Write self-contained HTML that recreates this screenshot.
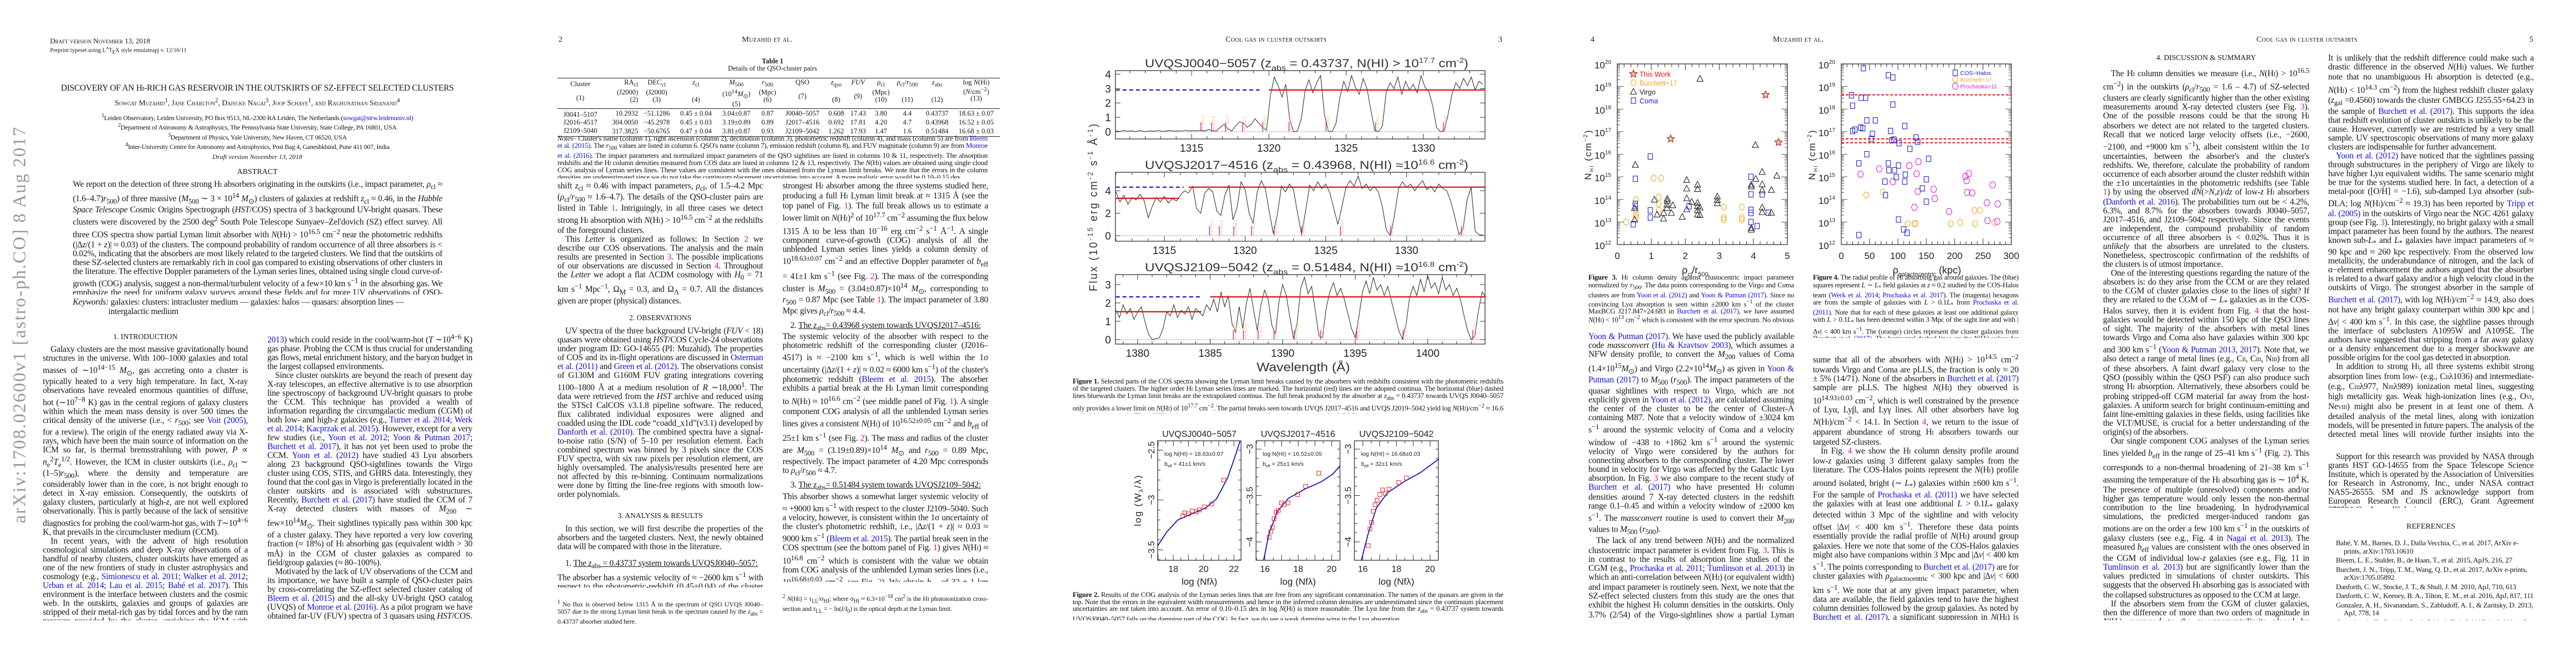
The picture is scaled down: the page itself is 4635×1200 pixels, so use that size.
<!DOCTYPE html>
<html><head><meta charset="utf-8">
<style>
body{margin:0;width:4635px;height:1200px;background:#fff;position:relative;overflow:hidden;font-family:"Liberation Serif",serif;color:#151515}
.a{position:absolute}
.col{position:absolute;font-size:15.5px;line-height:16px;text-align:justify;overflow:hidden;letter-spacing:-0.25px}
.col p{margin:0;text-indent:14px}
.col p.ni{text-indent:0}
.h{text-align:center;font-size:13.5px;letter-spacing:0;margin:9px 0 7px 0;text-indent:0!important}
.l{color:#1010d8}.f{color:#d010c0}
.cap{position:absolute;font-size:12.8px;line-height:12.7px;text-align:justify;letter-spacing:-0.25px;overflow:hidden}
.hd{position:absolute;font-size:14px;top:64px;font-variant:small-caps;letter-spacing:0.3px}
.fn{position:absolute;font-size:12px;line-height:12.8px;text-align:justify;letter-spacing:-0.2px}
table{border-collapse:collapse;font-size:12.5px}
.ref p{margin:0 0 2px 0;text-indent:-14px;padding-left:14px;font-size:13px;line-height:14.5px;text-align:left}
</style></head>
<body>

<!-- PAGE 1 -->
<div class="a" style="left:36px;top:584px;transform:translate(-50%,-50%) rotate(-90deg);font-size:33px;color:#999;white-space:nowrap;letter-spacing:2px">arXiv:1708.02600v1 [astro-ph.CO] 8 Aug 2017</div>
<div class="a" style="left:90px;top:66px;font-size:13px;font-variant:small-caps">Draft version November 13, 2018</div>
<div class="a" style="left:90px;top:83px;font-size:10.5px">Preprint typeset using L<sup style="font-size:7px">A</sup>T<sub style="font-size:9px">E</sub>X style emulateapj v. 12/16/11</div>
<div class="a" style="left:90px;width:746px;top:150px;text-align:center;font-size:15.5px;letter-spacing:-0.3px">DISCOVERY OF AN H<span style="font-size:11px">I</span>-RICH GAS RESERVOIR IN THE OUTSKIRTS OF SZ-EFFECT SELECTED CLUSTERS</div>
<div class="a" style="left:90px;width:746px;top:175px;text-align:center;font-size:13.5px;font-variant:small-caps">Sowgat Muzahid<sup>1</sup>, Jane Charlton<sup>2</sup>, Daisuke Nagai<sup>3</sup>, Joop Schaye<sup>1</sup>, and Raghunathan Srianand<sup>4</sup></div>
<div class="a" style="left:90px;width:746px;top:202px;text-align:center;font-size:12px;line-height:14.3px;letter-spacing:-0.3px"><sup>1</sup>Leiden Observatory, Leiden University, PO Box 9513, NL-2300 RA Leiden, The Netherlands (<span class="l">sowgat@strw.leidenuniv.nl</span>)<br><sup>2</sup>Department of Astronomy &amp; Astrophysics, The Pennsylvania State University, State College, PA 16801, USA<br><sup>3</sup>Department of Physics, Yale University, New Haven, CT 06520, USA<br><sup>4</sup>Inter-University Centre for Astronomy and Astrophysics, Post Bag 4, Ganeshkhind, Pune 411 007, India</div>
<div class="a" style="left:90px;width:746px;top:275px;text-align:center;font-size:12px;font-style:italic">Draft version November 13, 2018</div>
<div class="a" style="left:90px;width:746px;top:302px;text-align:center;font-size:14px">ABSTRACT</div>
<div class="col" style="left:131px;width:665px;top:324px;height:206px"><p class="ni">We report on the detection of three strong H<span style="font-size:10px">I</span> absorbers originating in the outskirts (i.e., impact parameter, <i>ρ</i><sub>cl</sub> ≈ (1.6–4.7)<i>r</i><sub>500</sub>) of three massive (<i>M</i><sub>500</sub> ∼ 3 × 10<sup>14</sup> <i>M</i><sub>⊙</sub>) clusters of galaxies at redshift <i>z</i><sub>cl</sub> ≈ 0.46, in the <i>Hubble Space Telescope</i> Cosmic Origins Spectrograph (<i>HST</i>/COS) spectra of 3 background UV-bright quasars. These clusters were discovered by the 2500 deg<sup>2</sup> South Pole Telescope Sunyaev–Zel'dovich (SZ) effect survey. All three COS spectra show partial Lyman limit absorber with <i>N</i>(H<span style="font-size:10px">I</span>) &gt; 10<sup>16.5</sup> cm<sup>−2</sup> near the photometric redshifts (|Δ<i>z</i>/(1 + <i>z</i>)| ≈ 0.03) of the clusters. The compound probability of random occurrence of all three absorbers is &lt; 0.02%, indicating that the absorbers are most likely related to the targeted clusters. We find that the outskirts of these SZ-selected clusters are remarkably rich in cool gas compared to existing observations of other clusters in the literature. The effective Doppler parameters of the Lyman series lines, obtained using single cloud curve-of-growth (COG) analysis, suggest a non-thermal/turbulent velocity of a few×10 km s<sup>−1</sup> in the absorbing gas. We emphasize the need for uniform galaxy surveys around these fields and for more UV observations of QSO-cluster pairs in general in order to improve the statistics and gain further insights into the unexplored territory of the largest collapsed cosmic structures.</p></div>
<div class="a" style="left:131px;width:665px;top:536px;font-size:15.5px;line-height:16.5px;text-indent:-64px;padding-left:64px;box-sizing:border-box;letter-spacing:-0.25px"><i>Keywords:</i> galaxies: clusters: intracluster medium — galaxies: halos — quasars: absorption lines — intergalactic medium</div>

<div class="col" style="left:77px;width:369px;top:596px;height:520px">
<div class="h" style="margin-top:2px">1. INTRODUCTION</div>
<p>Galaxy clusters are the most massive gravitationally bound structures in the universe. With 100–1000 galaxies and total masses of ∼10<sup>14−15</sup> <i>M</i><sub>⊙</sub>, gas accreting onto a cluster is typically heated to a very high temperature. In fact, X-ray observations have revealed enormous quantities of diffuse, hot (∼10<sup>7−8</sup> K) gas in the central regions of galaxy clusters within which the mean mass density is over 500 times the critical density of the universe (i.e., &lt; <i>r</i><sub>500</sub>; see <span class="l">Voit (2005)</span>, for a review). The origin of the energy radiated away via X-rays, which have been the main source of information on the ICM so far, is thermal bremsstrahlung with power, <i>P</i> ∝ <i>n</i><sub>e</sub><sup>2</sup><i>T</i><sub>e</sub><sup>1/2</sup>. However, the ICM in cluster outskirts (i.e., <i>ρ</i><sub>cl</sub> ∼ (1–5)<i>r</i><sub>500</sub>), where the density and temperature are considerably lower than in the core, is not bright enough to detect in X-ray emission. Consequently, the outskirts of galaxy clusters, particularly at high-<i>z</i>, are not well explored observationally. This is partly because of the lack of sensitive diagnostics for probing the cool/warm-hot gas, with <i>T</i>∼10<sup>4−6</sup> K, that prevails in the circumcluster medium (CCM).</p>
<p>In recent years, with the advent of high resolution cosmological simulations and deep X-ray observations of a handful of nearby clusters, cluster outskirts have emerged as one of the new frontiers of study in cluster astrophysics and cosmology (e.g., <span class="l">Simionescu et al. 2011</span>; <span class="l">Walker et al. 2012</span>; <span class="l">Urban et al. 2014</span>; <span class="l">Lau et al. 2015</span>; <span class="l">Bahé et al. 2017</span>). This environment is the interface between clusters and the cosmic web. In the outskirts, galaxies and groups of galaxies are stripped of their metal-rich gas by tidal forces and by the ram pressure provided by the cluster, enriching the ICM with heavy elements. The outskirts of galaxy clusters may harbor a substantial fraction of the “missing baryons” (e.g., <span class="l">Gonzalez et al. 2007</span>,</p></div>

<div class="col" style="left:481px;width:369px;top:598px;height:518px">
<p class="ni"><span class="l">2013</span>) which could reside in the cool/warm-hot (<i>T</i> ∼10<sup>4−6</sup> K) gas phase. Probing the CCM is thus crucial for understanding gas flows, metal enrichment history, and the baryon budget in the largest collapsed environments.</p>
<p>Since cluster outskirts are beyond the reach of present day X-ray telescopes, an effective alternative is to use absorption line spectroscopy of background UV-bright quasars to probe the CCM. This technique has provided a wealth of information regarding the circumgalactic medium (CGM) of both low- and high-<i>z</i> galaxies (e.g., <span class="l">Turner et al. 2014</span>; <span class="l">Werk et al. 2014</span>; <span class="l">Kacprzak et al. 2015</span>). However, except for a very few studies (i.e., <span class="l">Yoon et al. 2012</span>; <span class="l">Yoon &amp; Putman 2017</span>; <span class="l">Burchett et al. 2017</span>), it has not yet been used to probe the CCM. <span class="l">Yoon et al. (2012)</span> have studied 43 Lyα absorbers along 23 background QSO-sightlines towards the Virgo cluster using COS, STIS, and GHRS data. Interestingly, they found that the cool gas in Virgo is preferentially located in the cluster outskirts and is associated with substructures. Recently, <span class="l">Burchett et al. (2017)</span> have studied the CCM of 7 X-ray detected clusters with masses of <i>M</i><sub>200</sub> ∼ few×10<sup>14</sup><i>M</i><sub>⊙</sub>. Their sightlines typically pass within 300 kpc of a cluster galaxy. They have reported a very low covering fraction (≈ 18%) of H<span style="font-size:10px">I</span> absorbing gas (equivalent width &gt; 30 mÅ) in the CGM of cluster galaxies as compared to field/group galaxies (≈ 80–100%).</p>
<p>Motivated by the lack of UV observations of the CCM and its importance, we have built a sample of QSO-cluster pairs by cross-correlating the SZ-effect selected cluster catalog of <span class="l">Bleem et al. (2015)</span> and the all-sky UV-bright QSO catalog (UVQS) of <span class="l">Monroe et al. (2016)</span>. As a pilot program we have obtained far-UV (FUV) spectra of 3 quasars using <i>HST</i>/COS. These quasars probe the outskirts of 3 SZ-selected clusters of masses <i>M</i><sub>500</sub> ∼ 3 × 10<sup>14</sup> <i>M</i><sub>⊙</sub> at red-</p></div>

<!-- PAGE 2 -->
<div class="hd" style="left:1005px">2</div>
<div class="hd" style="left:1335px">Muzahid et al.</div>
<div class="a" style="left:1003px;width:774px;top:104px;text-align:center;font-size:12.5px;line-height:13px"><b>Table 1</b><br>Details of the QSO-cluster pairs</div>
<table class="a" style="left:1003px;top:140px;width:796px;border-top:1.5px solid #222;border-bottom:1.5px solid #222">
<tr style="border-bottom:1px solid #222;text-align:center;vertical-align:top;line-height:12.5px">
<td style="padding:4px 2px 4px 2px">Cluster<br><br>(1)</td><td style="text-align:right">RA<sub>cl</sub><br>(J2000)<br>(2)</td><td>DEC<sub>cl</sub><br>(J2000)<br>(3)</td><td><i>z</i><sub>cl</sub><br><br>(4)</td><td><i>M</i><sub>500</sub><br>(10<sup>14</sup><i>M</i><sub>⊙</sub>)<br>(5)</td><td><i>r</i><sub>500</sub><br>(Mpc)<br>(6)</td><td>QSO<br><br>(7)</td><td><i>z</i><sub>qso</sub><br><br>(8)</td><td><i>FUV</i><br><br>(9)</td><td><i>ρ</i><sub>cl</sub><br>(Mpc)<br>(10)</td><td><i>ρ</i><sub>cl</sub>/<i>r</i><sub>500</sub><br><br>(11)</td><td><i>z</i><sub>abs</sub><br><br>(12)</td><td>log <i>N</i>(H<span style="font-size:9px">I</span>)<br>(<i>N</i>/cm<sup>−2</sup>)<br>(13)</td></tr>
<tr style="text-align:center;line-height:12.6px"><td style="padding-top:4px">J0041–5107</td><td style="text-align:right">10.2932</td><td>−51.1286</td><td>0.45 ± 0.04</td><td>3.04±0.87</td><td>0.87</td><td>J0040–5057</td><td>0.608</td><td>17.43</td><td>3.80</td><td>4.4</td><td>0.43737</td><td>18.63 ± 0.07</td></tr>
<tr style="text-align:center;line-height:12.6px"><td>J2016–4517</td><td style="text-align:right">304.0050</td><td>−45.2978</td><td>0.45 ± 0.03</td><td>3.19±0.89</td><td>0.89</td><td>J2017–4516</td><td>0.692</td><td>17.81</td><td>4.20</td><td>4.7</td><td>0.43968</td><td>16.52 ± 0.05</td></tr>
<tr style="text-align:center;line-height:12.6px"><td style="padding-bottom:4px">J2109–5040</td><td style="text-align:right">317.3825</td><td>−50.6765</td><td>0.47 ± 0.04</td><td>3.81±0.87</td><td>0.93</td><td>J2109–5042</td><td>1.262</td><td>17.93</td><td>1.47</td><td>1.6</td><td>0.51484</td><td>16.68 ± 0.03</td></tr>
</table>
<div class="cap" style="left:1003px;width:774px;top:243px;height:78px"><i>Notes</i>– Cluster's name (column 1), right ascension (column 2), declination (column 3), photometric redshift (column 4), and mass (column 5) are from <span class="l">Bleem et al. (2015)</span>. The <i>r</i><sub>500</sub> values are listed in column 6. QSO's name (column 7), emission redshift (column 8), and FUV magnitude (column 9) are from <span class="l">Monroe et al. (2016)</span>. The impact parameters and normalized impact parameters of the QSO sightlines are listed in columns 10 &amp; 11, respectively. The absorption redshifts and the H<span style="font-size:9px">I</span> column densities measured from COS data are listed in columns 12 &amp; 13, respectively. The <i>N</i>(H<span style="font-size:9px">I</span>) values are obtained using single cloud COG analysis of Lyman series lines. These values are consistent with the ones obtained from the Lyman limit breaks. We note that the errors in the column densities are underestimated since we do not take the continuum placement uncertainties into account. A more realistic error would be 0.10–0.15 dex.</div>

<div class="col" style="left:1003px;width:370px;top:327px;height:730px">
<p class="ni">shift <i>z</i><sub>cl</sub> ≈ 0.46 with impact parameters, <i>ρ</i><sub>cl</sub>, of 1.5–4.2 Mpc (<i>ρ</i><sub>cl</sub>/<i>r</i><sub>500</sub> ≈ 1.6–4.7). The details of the QSO-cluster pairs are listed in Table <span class="f">1</span>. Intriguingly, in all three cases we detect strong H<span style="font-size:10px">I</span> absorption with <i>N</i>(H<span style="font-size:10px">I</span>) &gt; 10<sup>16.5</sup> cm<sup>−2</sup> at the redshifts of the foreground clusters.</p>
<p>This <i>Letter</i> is organized as follows: In Section <span class="f">2</span> we describe our COS observations. The analysis and the main results are presented in Section <span class="f">3</span>. The possible implications of our observations are discussed in Section <span class="f">4</span>. Throughout the <i>Letter</i> we adopt a flat ΛCDM cosmology with <i>H</i><sub>0</sub> = 71 km s<sup>−1</sup> Mpc<sup>−1</sup>, Ω<sub>M</sub> = 0.3, and Ω<sub>Λ</sub> = 0.7. All the distances given are proper (physical) distances.</p>
<div class="h" style="margin:14px 0 8px">2. OBSERVATIONS</div>
<p>UV spectra of the three background UV-bright (<i>FUV</i> &lt; 18) quasars were obtained using <i>HST</i>/COS Cycle-24 observations under program ID: GO-14655 (PI: Muzahid). The properties of COS and its in-flight operations are discussed in <span class="l">Osterman et al. (2011)</span> and <span class="l">Green et al. (2012)</span>. The observations consist of G130M and G160M FUV grating integrations covering 1100–1800 Å at a medium resolution of <i>R</i> ∼18,000<sup>1</sup>. The data were retrieved from the <i>HST</i> archive and reduced using the STScI CalCOS v3.1.8 pipeline software. The reduced, flux calibrated individual exposures were aligned and coadded using the IDL code “coadd_x1d”(v3.1) developed by <span class="l">Danforth et al. (2010)</span>. The combined spectra have a signal-to-noise ratio (S/N) of 5–10 per resolution element. Each combined spectrum was binned by 3 pixels since the COS FUV spectra, with six raw pixels per resolution element, are highly oversampled. The analysis/results presented here are not affected by this re-binning. Continuum normalizations were done by fitting the line-free regions with smooth low-order polynomials.</p>
<div class="h" style="margin:22px 0 8px">3. ANALYSIS &amp; RESULTS</div>
<p>In this section, we will first describe the properties of the absorbers and the targeted clusters. Next, the newly obtained data will be compared with those in the literature.</p>
<p style="margin-top:14px">1. <u>The <i>z</i><sub>abs</sub> = 0.43737 system towards UVQSJ0040–5057:</u></p>
<p class="ni">The absorber has a systemic velocity of ≈ −2600 km s<sup>−1</sup> with respect to the photometric-redshift (0.45±0.04) of the cluster J0041–5107 (<span class="l">Bleem et al. 2015</span>). This velocity is well within the 1σ uncertainty of the cluster redshift, i.e., |Δ<i>z</i>/(1 + <i>z</i>)| ≈ 0.03 ≈ 9000 km s<sup>−1</sup>. This is the</p></div>
<div class="fn" style="left:1003px;width:370px;top:1078px"><sup>1</sup> No flux is observed below 1315 Å in the spectrum of QSO UVQS J0040–5057 due to the strong Lyman limit break in the spectrum caused by the <i>z</i><sub>abs</sub> = 0.43737 absorber studied here.</div>

<div class="col" style="left:1408px;width:370px;top:327px;height:720px">
<p class="ni">strongest H<span style="font-size:10px">I</span> absorber among the three systems studied here, producing a full H<span style="font-size:10px">I</span> Lyman limit break at ≈ 1315 Å (see the top panel of Fig. <span class="f">1</span>). The full break allows us to estimate a lower limit on <i>N</i>(H<span style="font-size:10px">I</span>)<sup>2</sup> of 10<sup>17.7</sup> cm<sup>−2</sup> assuming the flux below 1315 Å to be less than 10<sup>−16</sup> erg cm<sup>−2</sup> s<sup>−1</sup> Å<sup>−1</sup>. A single component curve-of-growth (COG) analysis of all the unblended Lyman series lines yields a column density of 10<sup>18.63±0.07</sup> cm<sup>−2</sup> and an effective Doppler parameter of <i>b</i><sub>eff</sub> = 41±1 km s<sup>−1</sup> (see Fig. <span class="f">2</span>). The mass of the corresponding cluster is <i>M</i><sub>500</sub> = (3.04±0.87)×10<sup>14</sup> <i>M</i><sub>⊙</sub>, corresponding to <i>r</i><sub>500</sub> = 0.87 Mpc (see Table <span class="f">1</span>). The impact parameter of 3.80 Mpc gives <i>ρ</i><sub>cl</sub>/<i>r</i><sub>500</sub> ≈ 4.4.</p>
<p style="margin-top:6px">2. <u>The <i>z</i><sub>abs</sub>= 0.43968 system towards UVQSJ2017–4516:</u></p>
<p class="ni">The systemic velocity of the absorber with respect to the photometric redshift of the corresponding cluster (J2016–4517) is ≈ −2100 km s<sup>−1</sup>, which is well within the 1σ uncertainty (|Δ<i>z</i>/(1 + <i>z</i>)| ≈ 0.02 ≈ 6000 km s<sup>−1</sup>) of the cluster's photometric redshift (<span class="l">Bleem et al. 2015</span>). The absorber exhibits a partial break at the H<span style="font-size:10px">I</span> Lyman limit corresponding to <i>N</i>(H<span style="font-size:10px">I</span>) ≈ 10<sup>16.6</sup> cm<sup>−2</sup> (see middle panel of Fig. <span class="f">1</span>). A single component COG analysis of all the unblended Lyman series lines gives a consistent <i>N</i>(H<span style="font-size:10px">I</span>) of 10<sup>16.52±0.05</sup> cm<sup>−2</sup> and <i>b</i><sub>eff</sub> of 25±1 km s<sup>−1</sup> (see Fig. <span class="f">2</span>). The mass and radius of the cluster are <i>M</i><sub>500</sub> = (3.19±0.89)×10<sup>14</sup> <i>M</i><sub>⊙</sub> and <i>r</i><sub>500</sub> = 0.89 Mpc, respectively. The impact parameter of 4.20 Mpc corresponds to <i>ρ</i><sub>cl</sub>/<i>r</i><sub>500</sub> ≈ 4.7.</p>
<p style="margin-top:6px">3. <u>The <i>z</i><sub>abs</sub>= 0.51484 system towards UVQSJ2109–5042:</u></p>
<p class="ni">This absorber shows a somewhat larger systemic velocity of ≈ +9000 km s<sup>−1</sup> with respect to the cluster J2109–5040. Such a velocity, however, is consistent within the 1σ uncertainty of the cluster's photometric redshift, i.e., |Δ<i>z</i>/(1 + <i>z</i>)| ≈ 0.03 ≈ 9000 km s<sup>−1</sup> (<span class="l">Bleem et al. 2015</span>). The partial break seen in the COS spectrum (see the bottom panel of Fig. <span class="f">1</span>) gives <i>N</i>(H<span style="font-size:10px">I</span>) ≈ 10<sup>16.8</sup> cm<sup>−2</sup> which is consistent with the value we obtain from COG analysis of the unblended Lyman series lines (i.e., 10<sup>16.68±0.03</sup> cm<sup>−2</sup>, see Fig. <span class="f">2</span>). We obtain <i>b</i><sub>eff</sub> of 32 ± 1 km s<sup>−1</sup> from the COG analysis. The mass of the cluster, <i>M</i><sub>500</sub> = (3.81±0.87)×10<sup>14</sup> <i>M</i><sub>⊙</sub>, corresponds to <i>r</i><sub>500</sub> = 0.93 Mpc. The impact parameter of the cluster of 1.5 Mpc so that <i>ρ</i><sub>cl</sub>/<i>r</i><sub>500</sub> ≈ 1.6.</p>
<p style="margin-top:4px">In Fig. <span class="f">3</span> we show the clustocentric radial profile of <i>N</i>(H<span style="font-size:10px">I</span>), combining our measurements with the handful of studies that exist in the literature. The data points corresponding to the Virgo and Coma clusters are taken from <span class="l">Yoon et al. (2012)</span> and</p></div>
<div class="fn" style="left:1408px;width:370px;top:1068px"><sup>2</sup> <i>N</i>(H<span style="font-size:9px">I</span>) = τ<sub>LL</sub>/σ<sub>HI</sub>; where σ<sub>HI</sub> ≈ 6.3×10<sup>−18</sup> cm<sup>2</sup> is the H<span style="font-size:9px">I</span> photoionization cross-section and τ<sub>LL</sub> = − ln(<i>I</i>/<i>I</i><sub>0</sub>) is the optical depth at the Lyman limit.</div>

<!-- PAGE 3 -->
<div class="hd" style="left:2205px">Cool gas in cluster outskirts</div>
<div class="hd" style="left:2696px">3</div>
<div class="cap" style="left:1930px;width:775px;top:680px;height:64px"><b>Figure 1.</b> Selected parts of the COS spectra showing the Lyman limit breaks caused by the absorbers with redshifts consistent with the photometric redshifts of the targeted clusters. The higher order H<span style="font-size:9px">I</span> Lyman series lines are marked. The horizontal (red) lines are the adopted continua. The horizontal (blue) dashed lines bluewards the Lyman limit breaks are the extrapolated continua. The full break produced by the absorber at <i>z</i><sub>abs</sub> = 0.43737 towards UVQS J0040–5057 only provides a lower limit on <i>N</i>(H<span style="font-size:9px">I</span>) of 10<sup>17.7</sup> cm<sup>−2</sup>. The partial breaks seen towards UVQS J2017–4516 and UVQS J2019–5042 yield log <i>N</i>(H<span style="font-size:9px">I</span>)/cm<sup>−2</sup> ≈ 16.6 and 16.8, respectively. These <i>N</i>(H<span style="font-size:9px">I</span>) values are consistent with the ones obtained using single cloud COG analysis.</div>
<div class="cap" style="left:1930px;width:775px;top:1064px;height:52px"><b>Figure 2.</b> Results of the COG analysis of the Lyman series lines that are free from any significant contamination. The names of the quasars are given in the top. Note that the errors in the equivalent width measurements and hence in the inferred column densities are underestimated since the continuum placement uncertainties are not taken into account. An error of 0.10–0.15 dex in log <i>N</i>(H<span style="font-size:9px">I</span>) is more reasonable. The Lyα line from the <i>z</i><sub>abs</sub> = 0.43737 system towards UVQSJ0040–5057 falls on the damping part of the COG. In fact, we do see a weak damping wing in the Lyα absorption.</div>

<!-- PAGE 4 -->
<div class="hd" style="left:2862px">4</div>
<div class="hd" style="left:3190px">Muzahid et al.</div>
<div class="cap" style="left:2858px;width:370px;top:493px;height:90px"><b>Figure 3.</b> H<span style="font-size:9px">I</span> column density against clustocentric impact parameter normalized by <i>r</i><sub>500</sub>. The data points corresponding to the Virgo and Coma clusters are from <span class="l">Yoon et al. (2012)</span> and <span class="l">Yoon &amp; Putman (2017)</span>. Since no convincing Lyα absorption is seen within ±2000 km s<sup>−1</sup> of the cluster MaxBCG J217.847+24.683 in <span class="l">Burchett et al. (2017)</span>, we have assumed <i>N</i>(H<span style="font-size:9px">I</span>) &lt; 10<sup>13</sup> cm<sup>−2</sup> which is consistent with the error spectrum. No obvious trend is seen in the <i>N</i>(H<span style="font-size:9px">I</span>) radial profile.</div>
<div class="cap" style="left:3262px;width:370px;top:493px;height:115px"><b>Figure 4.</b> The radial profile of H<span style="font-size:9px">I</span> absorbing gas around galaxies. The (blue) squares represent <i>L</i> ∼ <i>L</i><sub>*</sub> field galaxies at <i>z</i> ≈ 0.2 studied by the COS-Halos team (<span class="l">Werk et al. 2014</span>; <span class="l">Prochaska et al. 2017</span>). The (magenta) hexagons are from the sample of galaxies with <i>L</i> &gt; 0.1<i>L</i><sub>*</sub> from <span class="l">Prochaska et al. (2011)</span>. Note that for each of these galaxies at least one additional galaxy with <i>L</i> &gt; 0.1<i>L</i><sub>*</sub> has been detected within 3 Mpc of the sight line and with |Δ<i>v</i>| &lt; 400 km s<sup>−1</sup>. The (orange) circles represent the cluster galaxies from <span class="l">Burchett et al. (2017)</span>. The horizontal dashed lines are the <i>N</i>(H<span style="font-size:9px">I</span>) values for the three clusters studied here.</div>

<div class="col" style="left:2858px;width:370px;top:598px;height:518px">
<p class="ni"><span class="l">Yoon &amp; Putman (2017)</span>. We have used the publicly available code <i>massconvert</i> (<span class="l">Hu &amp; Kravtsov 2003</span>), which assumes a NFW density profile, to convert the <i>M</i><sub>200</sub> values of Coma (1.4×10<sup>15</sup><i>M</i><sub>⊙</sub>) and Virgo (2.2×10<sup>14</sup><i>M</i><sub>⊙</sub>) as given in <span class="l">Yoon &amp; Putman (2017)</span> to <i>M</i><sub>500</sub> (<i>r</i><sub>500</sub>). The impact parameters of the quasar sightlines with respect to Virgo, which are not explicitly given in <span class="l">Yoon et al. (2012)</span>, are calculated assuming the center of the cluster to be the center of Cluster-A containing M87. Note that a velocity window of ±3024 km s<sup>−1</sup> around the systemic velocity of Coma and a velocity window of −438 to +1862 km s<sup>−1</sup> around the systemic velocity of Virgo were considered by the authors for connecting absorbers to the corresponding cluster. The lower bound in velocity for Virgo was affected by the Galactic Lyα absorption. In Fig. <span class="f">3</span> we also compare to the recent study of <span class="l">Burchett et al. (2017)</span> who have presented H<span style="font-size:10px">I</span> column densities around 7 X-ray detected clusters in the redshift range 0.1–0.45 and within a velocity window of ±2000 km s<sup>−1</sup>. The <i>massconvert</i> routine is used to convert their <i>M</i><sub>200</sub> values to <i>M</i><sub>500</sub> (<i>r</i><sub>500</sub>).</p>
<p>The lack of any trend between <i>N</i>(H<span style="font-size:10px">I</span>) and the normalized clustocentric impact parameter is evident from Fig. <span class="f">3</span>. This is in contrast to the results of absorption line studies of the CGM (e.g., <span class="l">Prochaska et al. 2011</span>; <span class="l">Tumlinson et al. 2013</span>) in which an anti-correlation between <i>N</i>(H<span style="font-size:10px">I</span>) (or equivalent width) and impact parameter is routinely seen. Next, we note that the SZ-effect selected clusters from this study are the ones that exhibit the highest H<span style="font-size:10px">I</span> column densities in the outskirts. Only 3.7% (2/54) of the Virgo-sightlines show a partial Lyman limit system (pLLS; <i>N</i>(H<span style="font-size:10px">I</span>) &gt; 10<sup>16.2</sup> cm<sup>−2</sup>). None of the Coma-sightlines show a pLLS. Note that, owing to the low redshifts, the <i>N</i>(H<span style="font-size:10px">I</span>) measurements for Virgo and Coma rely only on the Lyα line and the systems with <i>N</i>(H<span style="font-size:10px">I</span>) &gt; 10<sup>14.5</sup> cm<sup>−2</sup> are presumably saturated. Nonetheless, even if we as-</p></div>

<div class="col" style="left:3262px;width:370px;top:634px;height:482px">
<p class="ni">sume that all of the absorbers with <i>N</i>(H<span style="font-size:10px">I</span>) &gt; 10<sup>14.5</sup> cm<sup>−2</sup> towards Virgo and Coma are pLLS, the fraction is only ≈ 20 ± 5% (14/71). None of the absorbers in <span class="l">Burchett et al. (2017)</span> sample are pLLS. The highest <i>N</i>(H<span style="font-size:10px">I</span>) they observed is 10<sup>14.93±0.03</sup> cm<sup>−2</sup>, which is well constrained by the presence of Lyα, Lyβ, and Lyγ lines. All other absorbers have log <i>N</i>(H<span style="font-size:10px">I</span>)/cm<sup>−2</sup> &lt; 14.1. In Section <span class="f">4</span>, we return to the issue of apparent abundance of strong H<span style="font-size:10px">I</span> absorbers towards our targeted SZ-clusters.</p>
<p>In Fig. <span class="f">4</span> we show the H<span style="font-size:10px">I</span> column density profile around low-<i>z</i> galaxies using 3 different galaxy samples from the literature. The COS-Halos points represent the <i>N</i>(H<span style="font-size:10px">I</span>) profile around isolated, bright (∼ <i>L</i><sub>*</sub>) galaxies within ±600 km s<sup>−1</sup>. For the sample of <span class="l">Prochaska et al. (2011)</span> we have selected the galaxies with at least one additional <i>L</i> &gt; 0.1<i>L</i><sub>*</sub> galaxy detected within 3 Mpc of the sightline and with velocity offset |Δ<i>v</i>| &lt; 400 km s<sup>−1</sup>. Therefore these data points essentially provide the radial profile of <i>N</i>(H<span style="font-size:10px">I</span>) around group galaxies. Here we note that some of the COS-Halos galaxies might also have companions within 3 Mpc and |Δ<i>v</i>| &lt; 400 km s<sup>−1</sup>. The points corresponding to <span class="l">Burchett et al. (2017)</span> are for cluster galaxies with <i>ρ</i><sub>galactocentric</sub> &lt; 300 kpc and |Δ<i>v</i>| &lt; 600 km s<sup>−1</sup>. We note that at any given impact parameter, when data are available, the field galaxies tend to have the highest column densities followed by the group galaxies. As noted by <span class="l">Burchett et al. (2017)</span>, a significant suppression in <i>N</i>(H<span style="font-size:10px">I</span>) is apparent for their cluster galaxies. The <i>N</i>(H<span style="font-size:10px">I</span>) measurements of the SZ-clusters, as indicated by the dotted lines, are more than two orders of magnitude higher than the measurements/limits obtained by <span class="l">Burchett et al. (2017)</span>.</p></div>

<!-- PAGE 5 -->
<div class="hd" style="left:4060px">Cool gas in cluster outskirts</div>
<div class="hd" style="left:4551px">5</div>
<div class="col" style="left:3784px;width:371px;top:96px;height:1020px">
<div class="h" style="margin:0 0 7px">4. DISCUSSION &amp; SUMMARY</div>
<p>The H<span style="font-size:10px">I</span> column densities we measure (i.e., <i>N</i>(H<span style="font-size:10px">I</span>) &gt; 10<sup>16.5</sup> cm<sup>−2</sup>) in the outskirts (<i>ρ</i><sub>cl</sub>/<i>r</i><sub>500</sub> = 1.6 – 4.7) of SZ-selected clusters are clearly significantly higher than the other existing measurements around X-ray detected clusters (see Fig. <span class="f">3</span>). One of the possible reasons could be that the strong H<span style="font-size:10px">I</span> absorbers we detect are not related to the targeted clusters. Recall that we noticed large velocity offsets (i.e., −2600, −2100, and +9000 km s<sup>−1</sup>), albeit consistent within the 1σ uncertainties, between the absorber's and the cluster's redshifts. We, therefore, calculate the probability of random occurrence of each absorber around the cluster redshift within the ±1σ uncertainties in the photometric redshifts (see Table <span class="f">1</span>) by using the observed <i>dN</i>(&gt;<i>N</i>,<i>z</i>)/<i>dz</i> of low-<i>z</i> H<span style="font-size:10px">I</span> absorbers (<span class="l">Danforth et al. 2016</span>). The probabilities turn out be &lt; 4.2%, 6.3%, and 8.7% for the absorbers towards J0040–5057, J2017–4516, and J2109–5042 respectively. Since the events are independent, the compound probability of random occurrence of all three absorbers is &lt; 0.02%. Thus it is <i>unlikely</i> that the absorbers are unrelated to the clusters. Nonetheless, spectroscopic confirmation of the redshifts of the clusters is of utmost importance.</p>
<p>One of the interesting questions regarding the nature of the absorbers is: do they arise from the CCM or are they related to the CGM of cluster galaxies close to the lines of sight? If they are related to the CGM of ∼ <i>L</i><sub>*</sub> galaxies as in the COS-Halos survey, then it is evident from Fig. <span class="f">4</span> that the host-galaxies would be detected within 150 kpc of the QSO lines of sight. The majority of the absorbers with metal lines towards Virgo and Coma also have galaxies within 300 kpc and 300 km s<sup>−1</sup> (<span class="l">Yoon &amp; Putman 2013, 2017</span>). Note that, we also detect a range of metal lines (e.g., C<span style="font-size:10px">II</span>, C<span style="font-size:10px">III</span>, N<span style="font-size:10px">III</span>) from all of these absorbers. A faint dwarf galaxy very close to the QSO (possibly within the QSO PSF) can also produce such strong H<span style="font-size:10px">I</span> absorption. Alternatively, these absorbers could be probing stripped-off CGM material far away from the host-galaxies. A uniform search for bright continuum-emitting and faint line-emitting galaxies in these fields, using facilities like the VLT/MUSE, is crucial for a better understanding of the origin(s) of the absorbers.</p>
<p>Our single component COG analyses of the Lyman series lines yielded <i>b</i><sub>eff</sub> in the range of 25–41 km s<sup>−1</sup> (Fig. <span class="f">2</span>). This corresponds to a non-thermal broadening of 21–38 km s<sup>−1</sup> assuming the temperature of the H<span style="font-size:10px">I</span> absorbing gas is ∼ 10<sup>4</sup> K. The presence of multiple (unresolved) components and/or higher gas temperature would only lessen the non-thermal contribution to the line broadening. In hydrodynamical simulations, the predicted merger-induced random gas motions are on the order a few 100 km s<sup>−1</sup> in the outskirts of galaxy clusters (see e.g., Fig. 4 in <span class="l">Nagai et al. 2013</span>). The measured <i>b</i><sub>eff</sub> values are consistent with the ones observed in the CGM of individual low-<i>z</i> galaxies (see e.g., Fig. 11 in <span class="l">Tumlinson et al. 2013</span>) but are significantly lower than the values predicted in simulations of cluster outskirts. This suggests that the observed H<span style="font-size:10px">I</span> absorbing gas is associated with the collapsed substructures as opposed to the CCM at large.</p>
<p>If the absorbers stem from the CGM of cluster galaxies, then the difference of more than two orders of magnitude in <i>N</i>(H<span style="font-size:10px">I</span>) compared to the measurements/limits placed by <span class="l">Burchett et al. (2017)</span> is intriguing (see Fig. <span class="f">4</span>). We note that the clusters in <span class="l">Burchett et al. (2017)</span> are X-ray detected and primarily at <i>z</i> ≲ 0.2 but with masses (∼ few × 10<sup>14</sup> <i>M</i><sub>⊙</sub>), by and large, similar to our SZ-selected clusters at <i>z</i> ≈ 0.46.</p></div>

<div class="col" style="left:4189px;width:370px;top:97px;height:690px">
<p class="ni">It is unlikely that the redshift difference could make such a drastic difference in the observed <i>N</i>(H<span style="font-size:10px">I</span>) values. We further note that no unambiguous H<span style="font-size:10px">I</span> absorption is detected (e.g., <i>N</i>(H<span style="font-size:10px">I</span>) &lt; 10<sup>14.3</sup> cm<sup>−2</sup>) from the highest redshift cluster galaxy (<i>z</i><sub>gal</sub> =0.4560) towards the cluster GMBCG J255.55+64.23 in the sample of <span class="l">Burchett et al. (2017)</span>. This supports the idea that redshift evolution of cluster outskirts is unlikely to be the cause. However, currently we are restricted by a very small sample. UV spectroscopic observations of many more galaxy clusters are indispensable for further advancement.</p>
<p><span class="l">Yoon et al. (2012)</span> have noticed that the sightlines passing through substructures in the periphery of Virgo are likely to have higher Lyα equivalent widths. The same scenario might be true for the systems studied here. In fact, a detection of a metal-poor ([O/H] = −1.6), sub-damped Lyα absorber (sub-DLA; log <i>N</i>(H<span style="font-size:10px">I</span>)/cm<sup>−2</sup> ≈ 19.3) has been reported by <span class="l">Tripp et al. (2005)</span> in the outskirts of Virgo near the NGC 4261 galaxy group (see Fig. <span class="f">3</span>). Interestingly, no bright galaxy with a small impact parameter has been found by the authors. The nearest known sub-<i>L</i><sub>*</sub> and <i>L</i><sub>*</sub> galaxies have impact parameters of ≈ 90 kpc and ≈ 260 kpc respectively. From the observed low metallicity, the underabundance of nitrogen, and the lack of α−element enhancement the authors argued that the absorber is related to a dwarf galaxy and/or a high velocity cloud in the outskirts of Virgo. The strongest absorber in the sample of <span class="l">Burchett et al. (2017)</span>, with log <i>N</i>(H<span style="font-size:10px">I</span>)/cm<sup>−2</sup> ≈ 14.9, also does not have any bright galaxy counterpart within 300 kpc and |Δ<i>v</i>| &lt; 400 km s<sup>−1</sup>. In this case, the sightline passes through the interface of subclusters A1095W and A1095E. The authors have suggested that stripping from a far away galaxy or a density enhancement due to a merger shockwave are possible origins for the cool gas detected in absorption.</p>
<p>In addition to strong H<span style="font-size:10px">I</span>, all three systems exhibit strong absorption lines from low- (e.g., C<span style="font-size:10px">II</span>λ1036) and intermediate- (e.g., C<span style="font-size:10px">III</span>λ977, N<span style="font-size:10px">III</span>λ989) ionization metal lines, suggesting high metallicity gas. Weak high-ionization lines (e.g., O<span style="font-size:10px">VI</span>, Ne<span style="font-size:10px">VIII</span>) might also be present in at least one of them. A detailed analysis of the metal lines, along with ionization models, will be presented in future papers. The analysis of the detected metal lines will provide further insights into the nature of the absorbers.</p></div>
<div class="col" style="left:4189px;width:370px;top:814px;height:100px"><p>Support for this research was provided by NASA through grants HST GO-14655 from the Space Telescope Science Institute, which is operated by the Association of Universities for Research in Astronomy, Inc., under NASA contract NAS5-26555. SM and JS acknowledge support from European Research Council (ERC), Grant Agreement 278594-GasAroundGalaxies.</p></div>
<div class="a" style="left:4189px;width:370px;top:940px;text-align:center;font-size:14px">REFERENCES</div>
<div class="col ref" style="left:4203px;width:356px;top:970px;height:146px">
<p>Bahé, Y. M., Barnes, D. J., Dalla Vecchia, C., et al. 2017, ArXiv e-prints, arXiv:1703.10610</p>
<p>Bleem, L. E., Stalder, B., de Haan, T., et al. 2015, ApJS, 216, 27</p>
<p>Burchett, J. N., Tripp, T. M., Wang, Q. D., et al. 2017, ArXiv e-prints, arXiv:1705.05892</p>
<p>Danforth, C. W., Stocke, J. T., &amp; Shull, J. M. 2010, ApJ, 710, 613</p>
<p>Danforth, C. W., Keeney, B. A., Tilton, E. M., et al. 2016, ApJ, 817, 111</p>
<p>Gonzalez, A. H., Sivanandam, S., Zabludoff, A. I., &amp; Zaritsky, D. 2013, ApJ, 778, 14</p>
<p>Gonzalez, A. H., Zaritsky, D., &amp; Zabludoff, A. I. 2007, ApJ, 666, 147</p>
<p>Green, J. C., Froning, C. S., Osterman, S., et al. 2012, ApJ, 744, 60</p></div>

<svg id="figs" class="a" style="left:0;top:0" width="4635" height="1200" xmlns="http://www.w3.org/2000/svg" font-family="Liberation Sans, sans-serif"></svg>

<script>
// ===== Figure 1 spectra data =====
const spec1Start = 1310.1, spec1Step = 0.25;
const spec1Flux = [0.05,0.02,0.08,0.03,0.06,0.01,0.07,0.04,0.02,0.06,0.03,0.08,0.02,0.05,0.09,0.03,0.06,0.04,0.1,0.05,0.08,0.06,
0.1,0.05,0.15,0.08,0.05,0.3,0.5,0.2,0.05,0.4,0.7,0.6,0.3,0.5,0.9,0.6,0.3,0.1,
2.5,3.8,3.2,2.4,3.3,0.8,0.0,0.05,0.9,2.9,3.6,2.7,3.4,3.9,1.2,0.05,0.0,0.6,2.4,3.5,2.8,3.9,3.1,2.6,3.7,3.0,1.5,0.1,0.0,0.4,
2.8,3.4,3.0,3.8,2.6,3.5,2.9,3.3,2.7,3.9,3.1,2.8,1.8,0.3,0.0,0.1,1.2,2.6,3.4,3.0,3.7,3.2,3.8,2.9,3.5,3.3];
const spec2Start = 1312.0, spec2Step = 0.25;
const spec2Flux = [3.9,3.0,3.6,2.8,3.4,3.2,3.7,3.1,1.6,2.6,3.4,3.0,3.5,2.9,3.3,3.1,3.6,4.0,3.8,4.4,2.4,2.0,3.8,4.2,3.9,2.2,1.8,3.6,4.5,1.4,2.5,4.8,4.1,2.0,1.1,3.9,4.9,4.2,2.1,0.2,1.9,4.4,3.9,4.6,4.1,2.0,0.1,2.2,4.5,4.0,4.8,4.2,4.6,3.8,2.4,1.0,2.6,4.3,4.9,4.4,5.3,4.2,4.6,4.0,4.4,3.9,2.6,0.5,0.0,1.8,4.2,4.8,4.3,4.6,4.0,4.5,4.9,4.1,4.4,3.9,4.6,4.2,4.0,3.0,1.6,0.1,0.6,3.2,4.3,0.4,0.05,0.1];
const spec3Start = 1378.5, spec3Step = 0.25;
const spec3Flux = [1.6,1.2,1.9,1.4,1.7,1.1,1.5,1.8,1.0,0.3,0.0,0.05,0.1,0.6,1.5,1.3,1.9,1.2,1.6,1.4,1.8,1.1,1.7,1.5,1.3,1.9,1.6,2.2,1.5,2.6,1.8,2.4,0.9,0.4,1.8,0.6,2.0,2.8,1.6,0.5,1.9,2.7,2.2,0.8,0.3,2.1,3.0,2.4,1.2,0.05,0.9,2.8,3.4,2.5,2.9,1.6,0.2,0.1,1.7,2.6,3.1,2.4,2.8,2.2,1.4,0.6,0.1,1.2,2.6,3.2,2.5,3.4,2.7,3.0,2.4,2.9,2.1,1.3,0.5,0.05,0.8,2.3,2.9,2.4,3.3,2.6,3.5,2.8,3.1,2.5,3.4,2.7,3.0,2.4,2.8,2.2,1.3,0.5,0.0,0.2,1.6,2.6,2.3];
const spec1Marks = [1315.6,1316.3,1317.2,1318.3,1319.6,1321.3,1323.7,1326.9,1331.3];
const spec2Marks = [1317.8,1318.4,1319.3,1320.4,1321.8,1323.5,1325.9,1329.0,1333.4];
const spec3Marks = [1386.6,1387.3,1388.3,1389.4,1390.8,1392.6,1395.1,1398.3,1403.1];
const lymanLabels = ['HI 915.3','HI 915.8','HI 916.4','HI 917.1','HI 918.1','HI 919.3','HI 920.9','HI 923.1','HI 926.2'];
// continua: [lamStart, lamEnd, level]
const spec1Blue = [1310.1, 1319.4, 2.9], spec1Red = [[1320.0, 1334.0, 2.9]];
const spec2Blue = [1312.0, 1316.2, 4.32], spec2Red = [[1312.0, 1315.9, 3.33],[1316.5, 1334.9, 4.32]];
const spec3Blue = [1378.5, 1384.4, 2.33], spec3Red = [[1378.5, 1384.4, 1.52],[1385.0, 1404.0, 2.33]];
const spec1Ticks = [1315,1320,1325,1330], spec2Ticks = [1315,1320,1325,1330], spec3Ticks = [1380,1385,1390,1395,1400];
const spec1YTicks = [0,1,2,3,4], spec2YTicks = [0,2,4], spec3YTicks = [0,1,2,3];

// ===== Figure 2 COG data =====
const cog1X = [18.63,18.76,19.0,19.25,19.5,19.72,20.07,20.54,21.33];
const cog1Y = [-3.16,-3.13,-3.14,-3.11,-3.12,-3.10,-3.07,-3.04,-2.80];
const cog1CurveX = [16.97,17.57,18.3,19.21,20.12,20.85,21.58,22.13,22.4];
const cog1CurveY = [-3.46,-3.32,-3.2,-3.14,-3.08,-2.99,-2.78,-2.54,-2.41];
const cog2X = [16.25,16.35,16.45,16.55,16.67,16.8,17.0,17.16,17.38,17.97,18.44,19.23];
const cog2Y = [-3.95,-3.89,-3.84,-3.75,-3.68,-3.66,-3.58,-3.6,-3.58,-3.49,-3.4,-3.26];
const cog2CurveX = [15.92,16.25,16.75,17.41,18.4,19.4,20.06,20.51];
const cog2CurveY = [-4.2,-3.91,-3.67,-3.53,-3.43,-3.35,-3.27,-3.18];
const cog3X = [16.32,16.42,16.52,16.62,16.73,16.85,17.01,17.18,17.34,17.56,18.13,18.59];
const cog3Y = [-4.04,-3.86,-3.79,-3.67,-3.6,-3.55,-3.49,-3.44,-3.48,-3.43,-3.36,-3.31];
const cog3CurveX = [15.91,16.32,16.82,17.47,18.46,19.45,20.49];
const cog3CurveY = [-4.2,-3.91,-3.63,-3.47,-3.35,-3.25,-3.11];
const cogTitles = ['UVQSJ0040−5057','UVQSJ2017−4516','UVQSJ2109−5042'];
const cogNText = ['log N(HI) = 18.63±0.07','log N(HI) = 16.52±0.05','log N(HI) = 16.68±0.03'];
const cogBText = ['41±1 km/s','25±1 km/s','32±1 km/s'];
const cog1XTicks = [18,20,22], cog2XTicks = [16,18,20], cog3XTicks = [16,18,20];
const cog1YTicks = [-2.5,-3,-3.5], cog2YTicks = [-3,-3.5,-4], cog3YTicks = [-3,-3.5,-4];

// ===== Figure 3 data (rho_cl/r500, log N) =====
const f3StarX = [1.57,4.36,4.74];
const f3StarY = [16.68,18.63,16.53];
const f3ComaX = [0.97,0.53,0.53,0.53,0.97,0.97,0.47,3.93,3.93,4.26,3.93,3.93,3.93,4.11,4.44,2.11];
const f3ComaY = [15.9,14.91,13.8,13.7,13.52,13.2,12.9,15.0,14.22,14.22,13.54,13.4,13.0,12.82,13.41,13.7];
const f3BurX = [1.07,1.29,0.26,0.55,0.55,0.55,0.55,1.22,1.22,1.22,3.13,3.13,3.13,3.66,3.66,3.66];
const f3BurY = [14.94,14.94,13.0,13.99,13.52,13.31,13.19,14.1,13.8,13.52,13.66,13.19,13.1,13.66,13.19,13.1];
const f3VirX = [2.43,4.06,0.53,0.51,0.51,2.04,2.04,2.36,2.36,4.26,4.07,4.69,3.94,3.94,4.26,4.26,4.53,2.94,2.94,2.94,1.09,1.47,1.47,1.63,1.46,1.46,1.17,1.36,1.36,1.59,1.91,2.04,2.04,2.19,2.36,2.36,2.36,2.36,2.43,2.43,4.26,4.26,4.53,3.94,3.94];
const f3VirY = [19.34,16.41,15.53,13.62,13.11,14.86,14.48,14.65,14.46,15.22,14.91,15.05,14.65,14.57,14.67,14.4,14.42,14.13,13.97,13.83,13.99,14.03,13.93,13.74,13.62,13.77,13.33,13.4,13.15,13.4,13.23,14.05,13.56,13.89,13.85,13.7,13.52,13.33,13.31,13.64,13.64,13.44,13.41,12.74,12.66];
const f3XTicks = [0,1,2,3,4,5];
const logNTicks = [12,13,14,15,16,17,18,19,20];

// ===== Figure 4 data (kpc, log N) =====
const f4HaloX = [39,83,91,18,20,35,43,91,45,60,20,24,34,38,55,53,87,112,89,93,102,132,135,121,45,154,31,83,101,84,94,97,113,77,112,150,143,78,150,101,110,116,31];
const f4HaloY = [19.81,19.5,19.4,18.61,18.15,18.5,18.5,18.2,17.5,17.5,17.03,17.09,17.18,17.15,16.9,16.68,17.03,17.25,16.62,16.65,16.49,16.74,16.55,16.24,16.0,15.8,15.6,15.6,15.5,15.29,15.29,14.99,15.1,14.79,14.79,14.89,14.49,14.19,13.9,13.11,12.67,12.52,12.42];
const f4BurX = [44,73,117,129,131,193,210,235,245,236,270];
const f4BurY = [14.19,14.33,12.92,12.92,12.94,12.92,12.98,13.52,13.52,12.92,12.98];
const f4ProX = [34,67,91,120,136,133,135,129,163,165,219,221,225,222,231,190,257,267,276,258,275];
const f4ProY = [15.12,15.35,14.79,15.49,15.67,15.14,14.35,13.65,14.45,14.04,15.02,14.83,15.14,14.31,14.29,13.46,13.85,14.64,13.8,13.06,13.02];
const f4ClusterN = [18.63,16.68,16.51];
const f4XTicks = [0,50,100,150,200,250,300];

const NS = 'http://www.w3.org/2000/svg';
const svg = document.getElementById('figs');
function mk(tag, attrs, parent) {
  const e = document.createElementNS(NS, tag);
  for (const k in attrs) e.setAttribute(k, attrs[k]);
  (parent || svg).appendChild(e);
  return e;
}
function group(name) {
  const g = mk('g', {});
  
  
  return g;
}
function lin(d0, d1, p0, p1) { return v => p0 + (v - d0) / (d1 - d0) * (p1 - p0); }

// ---------- Figure 1 ----------
function drawSpectrum(idx, box, start, step, flux, marks, blue, reds, xt, yt, title, sup, nval) {
  const g = group('figure1-panel-' + idx);
  const sx = lin(box.l0, box.l1, box.x0, box.x1);
  const sy = v => box.zero - v * box.ppu;
  const clipId = 'clip' + idx;
  const cp = mk('clipPath', {id: clipId}, g);
  mk('rect', {x: box.x0, y: box.y0, width: box.x1 - box.x0, height: box.y1 - box.y0}, cp);
  const frame = mk('rect', {x: box.x0, y: box.y0, width: box.x1 - box.x0, height: box.y1 - box.y0, fill: 'none', stroke: '#333', 'stroke-width': 1.3}, g);
  
  
  const zl = mk('line', {x1: box.x0, x2: box.x1, y1: sy(0), y2: sy(0), stroke: '#666', 'stroke-dasharray': '1.5 2', 'stroke-width': 1}, g);
  
  
  let d = '';
  flux.forEach((f, i) => { d += (i ? 'L' : 'M') + sx(start + i * step).toFixed(1) + ' ' + sy(f).toFixed(1); });
  const path = mk('path', {d: d, fill: 'none', stroke: '#333', 'stroke-width': 1.1, 'clip-path': 'url(#' + clipId + ')'}, g);
  
  
  const bl = mk('line', {x1: sx(blue[0]), x2: sx(blue[1]), y1: sy(blue[2]), y2: sy(blue[2]), stroke: '#1a1ad0', 'stroke-width': 2.2, 'stroke-dasharray': '7 5'}, g);
  
  
  reds.forEach(r => {
    const rl = mk('line', {x1: sx(r[0]), x2: sx(r[1]), y1: sy(r[2]), y2: sy(r[2]), stroke: '#e01010', 'stroke-width': 2.2}, g);
    
    
  });
  marks.forEach((m, i) => {
    const ml = mk('line', {x1: sx(m), x2: sx(m), y1: sy(0), y2: sy(0) - 17, stroke: '#d010d0', 'stroke-width': 1.3}, g);
    
    
    const lt = mk('text', {x: 0, y: 0, 'font-size': 7, fill: '#f0c070', transform: 'translate(' + (sx(m) + 6) + ',' + (sy(0) - 2) + ') rotate(-90)'}, g);
    lt.textContent = lymanLabels[i];
    
    
  });
  for (let v = Math.ceil(box.l0); v <= box.l1; v++) {
    const big = xt.indexOf(v) >= 0;
    const tl = mk('line', {x1: sx(v), x2: sx(v), y1: box.y1, y2: box.y1 - (big ? 9 : 5), stroke: '#333'}, g);
    
    
    const tt = mk('line', {x1: sx(v), x2: sx(v), y1: box.y0, y2: box.y0 + (big ? 9 : 5), stroke: '#333'}, g);
    
    
  }
  xt.forEach(v => {
    const t = mk('text', {x: sx(v), y: box.y1 + 23, 'font-size': 19, 'text-anchor': 'middle', fill: '#222'}, g);
    t.textContent = v;
    
    
  });
  yt.forEach(v => {
    const t = mk('text', {x: box.x0 - 8, y: sy(v) + 7, 'font-size': 19, 'text-anchor': 'end', fill: '#222'}, g);
    t.textContent = v;
    
    
    const tl = mk('line', {x1: box.x0, x2: box.x0 + 9, y1: sy(v), y2: sy(v), stroke: '#333'}, g);
    
    
    const tr = mk('line', {x1: box.x1, x2: box.x1 - 9, y1: sy(v), y2: sy(v), stroke: '#333'}, g);
    
    
  });
  const tx = mk('text', {x: 2060, y: box.y0 - 6, 'font-size': 21, fill: '#333', textLength: 582, lengthAdjust: 'spacingAndGlyphs'}, g);
  tx.innerHTML = title + ' (z<tspan font-size="14" dy="6">abs</tspan><tspan dy="-6"> = ' + sup[0] + ', N(HI) ' + sup[1] + '10</tspan><tspan font-size="13" dy="-8">' + nval + '</tspan><tspan dy="8"> cm</tspan><tspan font-size="13" dy="-8">-2</tspan><tspan dy="8">)</tspan>';
  
  
}
drawSpectrum(1, {x0: 2007, x1: 2672, y0: 127, y1: 250, l0: 1310.07, l1: 1333.99, zero: 237, ppu: 25.9}, spec1Start, spec1Step, spec1Flux, spec1Marks, spec1Blue, spec1Red, spec1Ticks, spec1YTicks, 'UVQSJ0040−5057', ['0.43737', '&gt; '], '17.7');
drawSpectrum(2, {x0: 2007, x1: 2672, y0: 310, y1: 434, l0: 1311.97, l1: 1334.86, zero: 424, ppu: 20.2}, spec2Start, spec2Step, spec2Flux, spec2Marks, spec2Blue, spec2Red, spec2Ticks, spec2YTicks, 'UVQSJ2017−4516', ['0.43968', '≈'], '16.6');
drawSpectrum(3, {x0: 2007, x1: 2672, y0: 494, y1: 619, l0: 1378.47, l1: 1403.95, zero: 611, ppu: 33}, spec3Start, spec3Step, spec3Flux, spec3Marks, spec3Blue, spec3Red, spec3Ticks, spec3YTicks, 'UVQSJ2109−5042', ['0.51484', '≈'], '16.8');
const f1y = mk('text', {x: 0, y: 0, 'font-size': 20, fill: '#333', 'text-anchor': 'middle', transform: 'translate(1974,372) rotate(-90)', textLength: 304, lengthAdjust: 'spacingAndGlyphs', 'letter-spacing': 3});
f1y.innerHTML = 'Flux (10<tspan font-size="13" dy="-8">-15</tspan><tspan dy="8"> erg cm</tspan><tspan font-size="13" dy="-8">-2</tspan><tspan dy="8"> s</tspan><tspan font-size="13" dy="-8">-1</tspan><tspan dy="8"> Å</tspan><tspan font-size="13" dy="-8">-1</tspan><tspan dy="8">)</tspan>';


const f1x = mk('text', {x: 2345, y: 668, 'font-size': 22, fill: '#333', 'text-anchor': 'middle', textLength: 168, lengthAdjust: 'spacingAndGlyphs'});
f1x.textContent = 'Wavelength (Å)';



// ---------- Figure 2 ----------
function drawCOG(idx, box, xs, ys, cx, cy, xt, yt) {
  const g = group('figure2-panel-' + (idx + 1));
  const sx = lin(box.xmin, box.xmax, box.x0, box.x1);
  const sy = lin(box.ymax, box.ymin, box.y0, box.y1);
  const frame = mk('rect', {x: box.x0, y: box.y0, width: box.x1 - box.x0, height: box.y1 - box.y0, fill: 'none', stroke: '#333', 'stroke-width': 1.3}, g);
  
  
  for (let v = Math.ceil(box.xmin * 2) / 2; v <= box.xmax; v += 0.5) {
    const big = Math.abs(v - Math.round(v)) < 0.01;
    const t1 = mk('line', {x1: sx(v), x2: sx(v), y1: box.y1, y2: box.y1 - (big ? 10 : 5), stroke: '#333'}, g);
    
    
    const t2 = mk('line', {x1: sx(v), x2: sx(v), y1: box.y0, y2: box.y0 + (big ? 10 : 5), stroke: '#333'}, g);
    
    
  }
  for (let v = Math.ceil(box.ymin * 10) / 10; v <= box.ymax; v += 0.1) {
    const t1 = mk('line', {x1: box.x0, x2: box.x0 + 5, y1: sy(v), y2: sy(v), stroke: '#333'}, g);
    
    
    const t2 = mk('line', {x1: box.x1, x2: box.x1 - 5, y1: sy(v), y2: sy(v), stroke: '#333'}, g);
    
    
  }
  xt.forEach(v => {
    const t = mk('text', {x: sx(v), y: box.y1 + 21, 'font-size': 16, 'text-anchor': 'middle', fill: '#222'}, g);
    t.textContent = v;
    
    
  });
  yt.forEach(v => {
    const t = mk('text', {x: 0, y: 0, 'font-size': 16, 'text-anchor': 'middle', fill: '#222', transform: 'translate(' + (box.x0 - 6) + ',' + sy(v) + ') rotate(-90)'}, g);
    t.textContent = String(v).replace('-', '−');
    
    
    const tk = mk('line', {x1: box.x0, x2: box.x0 + 10, y1: sy(v), y2: sy(v), stroke: '#333'}, g);
    
    
  });
  let d = '';
  cx.forEach((x, i) => { d += (i ? 'L' : 'M') + sx(x).toFixed(1) + ' ' + sy(cy[i]).toFixed(1); });
  const c = mk('path', {d: d, fill: 'none', stroke: '#1515c8', 'stroke-width': 1.8, 'stroke-linejoin': 'round'}, g);
  
  
  xs.forEach((x, i) => {
    const s = mk('rect', {x: sx(x) - 3.5, y: sy(ys[i]) - 3.5, width: 7, height: 7, fill: 'none', stroke: '#e02020', 'stroke-width': 1}, g);
    
    
  });
  const ti = mk('text', {x: (box.x0 + box.x1) / 2, y: box.y0 - 7, 'font-size': 16, 'text-anchor': 'middle', fill: '#222'}, g);
  ti.textContent = cogTitles[idx];
  
  
  const nt = mk('text', {x: box.x0 + 12, y: box.y0 + 27, 'font-size': 10.5, fill: '#222'}, g);
  nt.textContent = cogNText[idx];
  
  
  const bt = mk('text', {x: box.x0 + 12, y: box.y0 + 45, 'font-size': 10.5, fill: '#222'}, g);
  bt.innerHTML = 'b<tspan font-size="7" dy="3">eff</tspan><tspan dy="-3"> = ' + cogBText[idx] + '</tspan>';
  
  
  const xl = mk('text', {x: (box.x0 + box.x1) / 2, y: box.y1 + 44, 'font-size': 17, 'text-anchor': 'middle', fill: '#222'}, g);
  xl.textContent = 'log (Nfλ)';
  
  
}
drawCOG(0, {x0: 2083, x1: 2233, y0: 793, y1: 1008, xmin: 16.97, xmax: 22.47, ymin: -3.605, ymax: -2.406}, cog1X, cog1Y, cog1CurveX, cog1CurveY, cog1XTicks, cog1YTicks);
drawCOG(1, {x0: 2260, x1: 2411, y0: 793, y1: 1008, xmin: 15.47, xmax: 20.5, ymin: -4.198, ymax: -2.91}, cog2X, cog2Y, cog2CurveX, cog2CurveY, cog2XTicks, cog2YTicks);
drawCOG(2, {x0: 2437, x1: 2588, y0: 793, y1: 1008, xmin: 15.5, xmax: 20.49, ymin: -4.198, ymax: -2.91}, cog3X, cog3Y, cog3CurveX, cog3CurveY, cog3XTicks, cog3YTicks);
const f2y = mk('text', {x: 0, y: 0, 'font-size': 17, 'text-anchor': 'middle', fill: '#222', transform: 'translate(2053,900) rotate(-90)', 'letter-spacing': 2});
f2y.innerHTML = 'log (W<tspan font-size="11" dy="4">λ</tspan><tspan dy="-4">/λ)</tspan>';



// ---------- Figures 3 & 4 ----------
function frameLogN(name, x0, x1, y0, y1, xmin, xmax, xt, xMinorStep, xlabelHTML, xlabelX) {
  const g = group(name);
  const sx = lin(xmin, xmax, x0, x1);
  const sy = lin(12, 20, y1, y0);
  const fr = mk('rect', {x: x0, y: y0, width: x1 - x0, height: y1 - y0, fill: 'none', stroke: '#333', 'stroke-width': 1.3}, g);
  
  
  for (let v = xmin; v <= xmax + 1e-6; v += xMinorStep) {
    const big = xt.some(t => Math.abs(t - v) < 1e-6);
    const a = mk('line', {x1: sx(v), x2: sx(v), y1: y1, y2: y1 - (big ? 11 : 6), stroke: '#333'}, g);
    
    
    const b = mk('line', {x1: sx(v), x2: sx(v), y1: y0, y2: y0 + (big ? 11 : 6), stroke: '#333'}, g);
    
    
  }
  logNTicks.forEach(v => {
    for (let k = 1; k < 10 && v < 20; k++) {
      const yy = sy(v + Math.log10(k));
      const len = k === 1 ? 11 : 5;
      const a = mk('line', {x1: x0, x2: x0 + len, y1: yy, y2: yy, stroke: '#333', 'stroke-width': 0.8}, g);
      
      
      const b = mk('line', {x1: x1, x2: x1 - len, y1: yy, y2: yy, stroke: '#333', 'stroke-width': 0.8}, g);
      
      
    }
    const t = mk('text', {x: x0 - 26, y: sy(v) + 8, 'font-size': 17, 'text-anchor': 'middle', fill: '#222'}, g);
    t.innerHTML = '10<tspan font-size="10" dy="-8">' + v + '</tspan>';
    
    
  });
  xt.forEach(v => {
    const t = mk('text', {x: sx(v), y: y1 + 26, 'font-size': 17, 'text-anchor': 'middle', fill: '#222'}, g);
    t.textContent = v;
    
    
  });
  const yl = mk('text', {x: 0, y: 0, 'font-size': 17, 'text-anchor': 'middle', fill: '#222', transform: 'translate(' + (x0 - 47) + ',278) rotate(-90)', 'letter-spacing': 2});
  yl.innerHTML = 'N<tspan font-size="9" dy="4">HI</tspan><tspan dy="-4">  (cm</tspan><tspan font-size="10" dy="-7">−2</tspan><tspan dy="7">)</tspan>';
  
  
  const xl = mk('text', {x: xlabelX, y: y1 + 52, 'font-size': 18, 'text-anchor': 'middle', fill: '#222'}, g);
  xl.innerHTML = xlabelHTML;
  
  
  return {g: g, sx: sx, sy: sy};
}
function starPath(cx, cy, r) {
  let d = '';
  for (let i = 0; i < 10; i++) {
    const rr = i % 2 ? r * 0.45 : r;
    const a = -Math.PI / 2 + i * Math.PI / 5;
    d += (i ? 'L' : 'M') + (cx + rr * Math.cos(a)).toFixed(1) + ' ' + (cy + rr * Math.sin(a)).toFixed(1);
  }
  return d + 'Z';
}
function hexPath(cx, cy, r) {
  let d = '';
  for (let i = 0; i < 6; i++) {
    const a = i * Math.PI / 3;
    d += (i ? 'L' : 'M') + (cx + r * Math.cos(a)).toFixed(1) + ' ' + (cy + r * 1.15 * Math.sin(a)).toFixed(1);
  }
  return d + 'Z';
}
function drawMarker(g, kind, x, y) {
  let e;
  if (kind === 'star') e = mk('path', {d: starPath(x, y, 7), fill: '#7ec07e', 'fill-opacity': 0.5, stroke: '#e01010', 'stroke-width': 1.2}, g);
  else if (kind === 'square') e = mk('rect', {x: x - 4, y: y - 5, width: 8, height: 10, fill: 'none', stroke: '#2020d0', 'stroke-width': 1.1}, g);
  else if (kind === 'circle') e = mk('ellipse', {cx: x, cy: y, rx: 4.5, ry: 5.5, fill: 'none', stroke: '#f0a820', 'stroke-width': 1.1}, g);
  else if (kind === 'tri') e = mk('path', {d: 'M' + x + ' ' + (y - 6) + 'L' + (x + 5.5) + ' ' + (y + 4.5) + 'L' + (x - 5.5) + ' ' + (y + 4.5) + 'Z', fill: 'none', stroke: '#222', 'stroke-width': 1.1}, g);
  else e = mk('path', {d: hexPath(x, y, 5.5), fill: 'none', stroke: '#e020e0', 'stroke-width': 1.1}, g);
  return e;
}

const F3 = frameLogN('figure3-nhi-vs-rho', 2910, 3216, 115, 440, 0, 5, f3XTicks, 0.2, 'ρ<tspan font-size="11" dy="5">cl</tspan><tspan dy="-5">/r</tspan><tspan font-size="11" dy="5">500</tspan>', 3050);
f3BurX.forEach((x, i) => { const m = drawMarker(F3.g, 'circle', F3.sx(x), F3.sy(f3BurY[i]));   });
f3VirX.forEach((x, i) => { const m = drawMarker(F3.g, 'tri', F3.sx(x), F3.sy(f3VirY[i]));   });
f3ComaX.forEach((x, i) => { const m = drawMarker(F3.g, 'square', F3.sx(x), F3.sy(f3ComaY[i]));   });
f3StarX.forEach((x, i) => { const m = drawMarker(F3.g, 'star', F3.sx(x), F3.sy(f3StarY[i]));   });
const legend3 = [['star', 'This Work', '#e01010'], ['circle', 'Burchett+17', '#f0a820'], ['tri', 'Virgo', '#222'], ['square', 'Coma', '#2020d0']];
legend3.forEach((L, i) => {
  const m = drawMarker(F3.g, L[0], 2939, 133 + i * 16);
  
  
  const t = mk('text', {x: 2950, y: 138 + i * 16, 'font-size': 12.5, fill: L[2]}, F3.g);
  t.textContent = L[1];
  
  
});

const F4 = frameLogN('figure4-nhi-vs-galactocentric', 3313, 3619, 115, 440, 0, 300, f4XTicks, 10, 'ρ<tspan font-size="11" dy="5">galactocentric</tspan><tspan dy="-5"> (kpc)</tspan>', 3467);
f4ClusterN.forEach(v => {
  const l = mk('line', {x1: 3313, x2: 3619, y1: F4.sy(v), y2: F4.sy(v), stroke: '#e01818', 'stroke-width': 2, 'stroke-dasharray': '5 3'}, F4.g);
  
  
});
f4BurX.forEach((x, i) => { const m = drawMarker(F4.g, 'circle', F4.sx(x), F4.sy(f4BurY[i]));   });
f4ProX.forEach((x, i) => { const m = drawMarker(F4.g, 'hex', F4.sx(x), F4.sy(f4ProY[i]));   });
f4HaloX.forEach((x, i) => { const m = drawMarker(F4.g, 'square', F4.sx(x), F4.sy(f4HaloY[i]));   });
const legend4 = [['square', 'COS−Halos', '#2020d0'], ['circle', 'Burchett+17', '#f0a820'], ['hex', 'Prochaska+11', '#e020e0']];
legend4.forEach((L, i) => {
  const m = drawMarker(F4.g, L[0], 3518, 131 + i * 12);
  
  
  const t = mk('text', {x: 3527, y: 135 + i * 12, 'font-size': 10.5, fill: L[2]}, F4.g);
  t.textContent = L[1];
  
  
});
</script>
</body></html>
